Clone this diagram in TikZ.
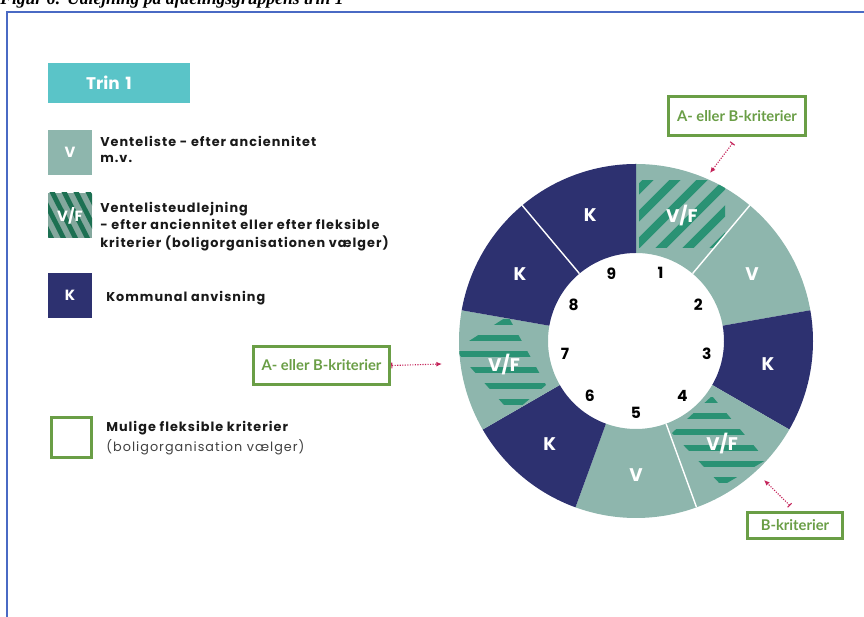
\documentclass[tikz,border=0pt]{standalone}
\usepackage{fontspec}
\setmainfont{Poppins}
\newfontfamily\legfont[LetterSpace=8]{Poppins}
\newfontfamily\callfont{Lato}
\newfontfamily\capfont{Liberation Serif}
\usetikzlibrary{arrows.meta}
\newcommand{\PX}{0.7087pt}
\newcommand{\ROUT}{177}
\newcommand{\RIN}{88}
\newcommand{\VF}{V/F}
\definecolor{ventegray}{RGB}{142,182,173}
\definecolor{kommnavy}{RGB}{45,49,112}
\definecolor{flexgreen}{RGB}{42,146,116}
\definecolor{legstripe}{RGB}{28,112,82}
\definecolor{legvf}{RGB}{132,168,158}
\definecolor{kritgreen}{RGB}{106,158,70}
\definecolor{arrowred}{RGB}{196,36,90}
\definecolor{trinteal}{RGB}{90,196,200}
\definecolor{frameblue}{RGB}{74,106,196}
\definecolor{legtext}{RGB}{25,25,25}
\newcommand{\segpath}[2]{(#1:\ROUT) arc[start angle=#1, end angle=#2, radius=\ROUT] -- (#2:\RIN) arc[start angle=#2, end angle=#1, radius=\RIN] -- cycle}

\tikzset{
  legsq/.style={minimum width=44*\PX, minimum height=45*\PX, inner sep=0pt, text=white, font=\bfseries\fontsize{10.5}{11}\selectfont},
  legtxt/.style={anchor=north west, inner sep=0pt, align=left, text=legtext, font=\legfont\bfseries\fontsize{9.1}{11.5}\selectfont},
  seglbl/.style={text=white, font=\bfseries\fontsize{13}{14}\selectfont},
  segnum/.style={font=\bfseries\fontsize{11}{12}\selectfont},
  critbox/.style={draw=kritgreen, line width=2.1pt, text=kritgreen, fill=white, inner sep=0pt, font=\callfont\bfseries\fontsize{10.5}{11}\selectfont},
  critarrow/.style={arrowred, line width=0.8pt, densely dotted, {Bar[width=4pt,line width=0.8pt]}-{Latex[length=4pt,width=3.5pt]}},
  stripe/.style={flexgreen, line width=5.7pt},
}

\begin{document}
\begin{tikzpicture}[x=0.025cm, y=0.025cm]
  \useasboundingbox (0,0) rectangle (864,617);

  % frame and cut caption
  \draw[frameblue, line width=1.4pt] (7,0) -- (7,605) -- (870,605);
  \node[anchor=base west, inner sep=0pt, font=\capfont\bfseries\itshape\fontsize{12.5}{14}\selectfont] (figcap) at (0,612) {Figur 6: Udlejning på afdelingsgruppens trin 1};

  % legend
  \node[fill=trinteal, minimum height=41*\PX, text width=66*\PX, inner xsep=38*\PX, inner ysep=0pt, align=left, text=white, font=\bfseries\fontsize{12}{13}\selectfont] (trin) at (119,534) {Trin 1};

  \node[legsq, fill=ventegray] (legV) at (70,464.5) {V};
  \node[legtxt] (legVtxt) at (100,481) {Venteliste - efter anciennitet\\m.v.};

  \begin{scope}
    \clip (48,379) rectangle (92,424);
    \fill[legvf] (48,379) rectangle (92,424);
    \foreach \x in {8,20,...,116} \draw[legstripe, line width=3.4pt] (\x,370) -- (\x-32,433);
  \end{scope}
  \node[legsq] (legVF) at (70,401.5) {\VF};
  \node[legtxt, font=\legfont\bfseries\fontsize{9.1}{12.4}\selectfont] (legVFtxt) at (100,415) {Ventelisteudlejning\\- efter anciennitet eller efter fleksible\\kriterier (boligorganisationen vælger)};

  \node[legsq, fill=kommnavy] (legK) at (70,321.5) {K};
  \node[legtxt, anchor=base west] (legKtxt) at (106,315) {Kommunal anvisning};

  \node[draw=kritgreen, line width=2.1pt, minimum width=41*\PX, minimum height=41*\PX] (legM) at (71.5,179.5) {};
  \node[legtxt, font=\legfont\bfseries\fontsize{9.1}{14}\selectfont] (legMtxt) at (106,196) {Mulige fleksible kriterier\\\mdseries\color{black!75}(boligorganisation vælger)};

  % ring
  \begin{scope}[shift={(636,276)}]
    \foreach \i/\col in {1/ventegray,2/ventegray,3/kommnavy,4/ventegray,5/ventegray,6/kommnavy,7/ventegray,8/kommnavy,9/kommnavy}{
      \pgfmathsetmacro{\a}{130-40*\i}
      \pgfmathsetmacro{\b}{90-40*\i}
      \fill[\col] \segpath{\a}{\b};
    }
    % hatching of the V/F parts
    \begin{scope}
      \clip \segpath{90}{50};
      \clip (3,93) rectangle (89,160);
      \foreach \c in {14,41,...,149} \draw[stripe] (-20,-20+\c) -- (110,110+\c);
    \end{scope}
    \begin{scope}
      \clip \segpath{-30}{-70};
      \clip (76,-55) -- (130,-119) -- (86,-145) -- (36,-92) -- cycle;
      \foreach \y in {-59,-75,...,-139} \draw[stripe, line width=4.3pt] (20,\y) -- (150,\y);
    \end{scope}
    \begin{scope}
      \clip \segpath{170}{210};
      \clip (-128,25) -- (-90,-44) -- (-124,-73) -- (-181,-9) -- cycle;
      \foreach \y in {19,3,...,-61} \draw[stripe, line width=4.3pt] (-200,\y) -- (-70,\y);
    \end{scope}
    \foreach \a in {50,130,-70} \draw[white, line width=1pt] (\a:\RIN) -- (\a:\ROUT);

    \foreach \i/\t in {1/\VF,2/V,3/K,4/\VF,5/V,6/K,7/\VF,8/K,9/K}{
      \node[seglbl] (seglbl\i) at ({110-40*\i}:134) {\t};
      \node[segnum] (num\i) at ({110-40*\i}:72) {\i};
    }
  \end{scope}

  % criteria boxes
  \coordinate (lpt) at (442,253);
  \coordinate (tpt) at (710,444);
  \coordinate (bpt) at (764,137);
  \node[critbox, minimum width=137*\PX, minimum height=39*\PX] (leftcrit) at (321.5,251.5) {A- eller B-kriterier};
  \node[critbox, minimum width=138*\PX, minimum height=40*\PX] (topcrit) at (737,501) {A- eller B-kriterier};
  \node[critbox, minimum width=96*\PX, minimum height=27*\PX] (botcrit) at (795,91.5) {B-kriterier};
  \draw[critarrow] (leftcrit.east) -- (lpt);
  \draw[critarrow, shorten <=5pt] (topcrit.south) -- (tpt);
  \draw[critarrow, shorten <=5pt] (botcrit.north) -- (bpt);
\end{tikzpicture}
\end{document}
